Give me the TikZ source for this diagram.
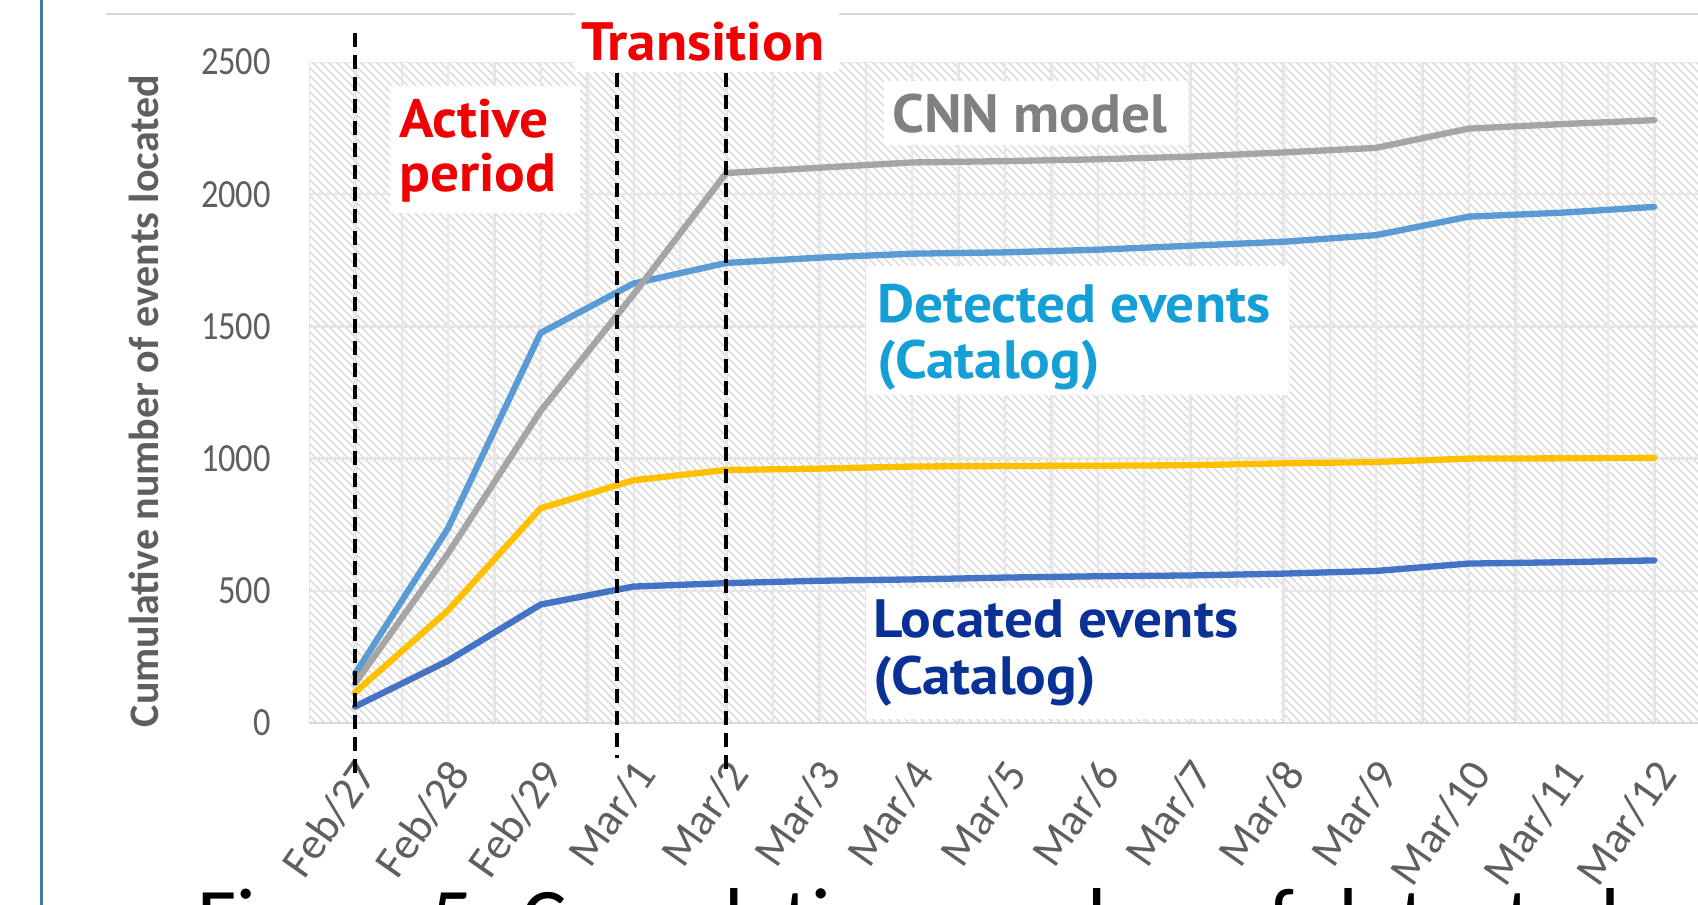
\documentclass[tikz,border=0pt]{standalone}
\usepackage{fontspec}
\setmainfont{Carlito}
\newfontfamily\notefont[FakeStretch=1.06]{PT Sans}
\newfontfamily\tickfont[FakeStretch=0.86]{Carlito}

\definecolor{frameblue}{RGB}{74,118,168}
\definecolor{rulegray}{RGB}{217,217,217}
\definecolor{hatchgray}{RGB}{220,220,220}
\definecolor{gridgray}{RGB}{230,230,230}
\definecolor{ticktext}{RGB}{95,95,95}
\definecolor{cnngray}{RGB}{165,165,165}
\definecolor{detblue}{RGB}{91,155,213}
\definecolor{locblue}{RGB}{68,114,196}
\definecolor{ambergold}{RGB}{255,192,0}
\definecolor{notered}{RGB}{240,0,0}
\definecolor{notegray}{RGB}{128,128,128}
\definecolor{notecyan}{RGB}{20,160,215}
\definecolor{notenavy}{RGB}{10,50,150}

\begin{document}
\begin{tikzpicture}[x=1pt,y=-1pt,
  series/.style={line width=6.3pt, line join=round, line cap=round},
  vguide/.style={black, line width=4pt, dash pattern=on 14pt off 8pt},
  note/.style={font=\notefont\bfseries\fontsize{54}{60}\selectfont, anchor=base west, inner sep=0pt},
  ylab/.style={font=\tickfont\fontsize{40}{40}\selectfont, text=ticktext, anchor=east, inner sep=0pt},
  xlab/.style={font=\fontsize{45}{45}\selectfont, text=ticktext, anchor=east, rotate=55, inner sep=0pt},
  labelbox/.style={fill=white}]

\useasboundingbox (0,0) rectangle (1698,905);
\clip (0,0) rectangle (1698,905);
\fill[white] (0,0) rectangle (1698,905);

% page frame rule and chart top border
\draw[frameblue, line width=3pt] (41,0) -- (41,905);
\draw[rulegray, line width=2pt] (106,14) -- (1698,14);

% hatched plot area
\begin{scope}
  \clip (309,62) rectangle (1698,723);
  \foreach \k in {0,...,262}
    \draw[hatchgray, line width=1.6pt] ({309-661+\k*8},62) -- ({309+\k*8},723);
  \foreach \j in {0,...,30}
    \draw[gridgray, line width=2.5pt] ({309+\j*46.4},62) -- ({309+\j*46.4},723);
  \foreach \k in {1,...,5}
    \draw[gridgray, line width=2.5pt] (309,{723-\k*132.2}) -- (1698,{723-\k*132.2});
\end{scope}
\draw[rulegray, line width=2.5pt] (309,723) -- (1698,723);

% value axis
\foreach \v [count=\k from 0] in {0,500,1000,1500,2000,2500}
  \node[ylab] (ytick\k) at (271,{723-\k*132.2}) {\v};
\node[font=\bfseries\fontsize{42}{42}\selectfont, text=ticktext, rotate=90, inner sep=0pt]
  (ytitle) at (144,401) {Cumulative number of events located};

% category axis
\foreach \lab [count=\i from 0] in {Feb/27,Feb/28,Feb/29,Mar/1,Mar/2,Mar/3,Mar/4,Mar/5,Mar/6,Mar/7,Mar/8,Mar/9,Mar/10,Mar/11,Mar/12}
  \node[xlab] (xtick\i) at ({355+\i*92.8+12},766) {\lab};

% data series
\begin{scope}[shift={(355,723)}, x={(92.8pt,0pt)}, y={(0pt,0.2644pt)}]
  \draw[series, detblue] plot coordinates {(0,185) (1,735) (2,1475) (3,1662) (4,1740) (5,1760) (6,1775) (7,1780) (8,1790) (9,1805) (10,1820) (11,1845) (12,1915) (13,1930) (14,1952)};
  \draw[series, cnngray] plot coordinates {(0,150) (1,640) (2,1180) (3,1620) (4,2080) (5,2100) (6,2120) (7,2125) (8,2132) (9,2142) (10,2158) (11,2175) (12,2248) (13,2265) (14,2280)};
  \draw[series, ambergold] plot coordinates {(0,115) (1,425) (2,812) (3,918) (4,957) (5,962) (6,970) (7,972) (8,973) (9,975) (10,982) (11,987) (12,1000) (13,1001) (14,1003)};
  \draw[series, locblue] plot coordinates {(0,62) (1,235) (2,448) (3,516) (4,529) (5,538) (6,543) (7,550) (8,555) (9,558) (10,565) (11,575) (12,603) (13,608) (14,615)};
\end{scope}

% annotation boxes
\fill[labelbox] (390,86) rectangle (580,213);
\fill[labelbox] (575,4) rectangle (839,72);
\fill[labelbox] (884,81) rectangle (1188,145);
\fill[labelbox] (866,266) rectangle (1289,395);
\fill[labelbox] (866,588) rectangle (1281,719);

\node[note, text=notered] (active) at (399,137) {Active};
\node[note, text=notered] (period) at (399,191) {period};
\node[note, text=notered] (trans) at (581,60) {Transition};
\node[note, text=notegray] (cnn) at (892,132) {CNN model};
\node[note, text=notecyan] (det1) at (877,322) {Detected events};
\node[note, text=notecyan] (det2) at (877,378) {(Catalog)};
\node[note, text=notenavy] (loc1) at (873,637) {Located events};
\node[note, text=notenavy] (loc2) at (873,694) {(Catalog)};

% period boundaries
\coordinate (g1top) at (355,33);  \coordinate (g1bot) at (355,777);
\coordinate (g2top) at (617,73);  \coordinate (g2bot) at (617,758);
\coordinate (g3top) at (726,73);  \coordinate (g3bot) at (726,772);
\draw[vguide] (g1top) -- (g1bot);
\draw[vguide] (g2top) -- (g2bot);
\draw[vguide] (g3top) -- (g3bot);

% caption
\node[anchor=base west, font=\fontsize{85}{85}\selectfont, inner sep=0pt] (caption)
  at (197,947) {Figure 5: Cumulative number of detected};
\end{tikzpicture}
\end{document}
